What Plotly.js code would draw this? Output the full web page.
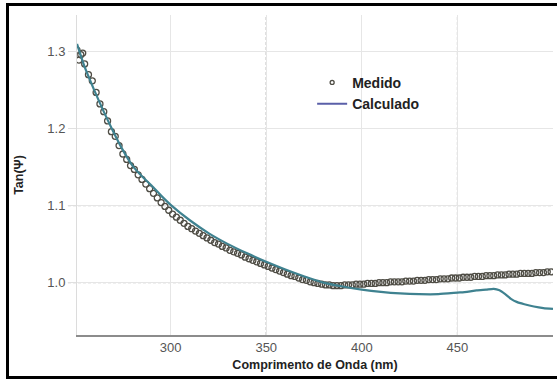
<!DOCTYPE html>
<html>
<head>
<meta charset="utf-8">
<script src="https://cdn.plot.ly/plotly-3.0.1.min.js"></script>
<style>
  html, body { margin: 0; padding: 0; background: #fff; }
  #wrap { position: relative; width: 557px; height: 379px; overflow: hidden; }
  #chart { position: absolute; left: 0; top: 0; width: 557px; height: 379px; }
  #frame { position: absolute; left: 6px; top: 3px; width: 600px; height: 370px;
           border: 3px solid #000; pointer-events: none; }
</style>
</head>
<body>
<div id="wrap"><div id="chart"></div><div id="frame"></div></div>
<script>
// Measured (Medido)
const measuredX = [251,252,253,254,255,257,259,261,263,265,267,269,271,273,275,277,279,281,283,285,287,289,291,293,295,297,299,301,303,305,307,309,311,313,315,317,319,321,323,325,327,329,331,333,335,337,339,341,343,345,347,349,351,353,355,357,359,361,363,365,367,369,371,373,375,377,379,381,383,385,387,389,391,393,395,397,399,401,403,405,407,409,411,413,415,417,419,421,423,425,427,429,431,433,435,437,439,441,443,445,447,449,451,453,455,457,459,461,463,465,467,469,471,473,475,477,479,481,483,485,487,489,491,493,495,497,499];
const measuredY = [1.302,1.289,1.296,1.298,1.284,1.270,1.262,1.247,1.232,1.222,1.210,1.196,1.190,1.178,1.167,1.160,1.152,1.147,1.140,1.134,1.128,1.122,1.116,1.110,1.104,1.099,1.094,1.089,1.085,1.081,1.077,1.073,1.070,1.067,1.064,1.061,1.058,1.055,1.052,1.050,1.047,1.045,1.042,1.040,1.038,1.036,1.033,1.031,1.029,1.027,1.025,1.023,1.021,1.019,1.017,1.015,1.013,1.011,1.009,1.008,1.006,1.004,1.003,1.001,1.000,0.999,0.998,0.997,0.997,0.996,0.996,0.996,0.997,0.997,0.997,0.998,0.998,0.998,0.999,0.999,0.999,1.000,1.000,1.000,1.001,1.001,1.001,1.001,1.002,1.002,1.002,1.003,1.003,1.003,1.004,1.004,1.004,1.005,1.005,1.005,1.006,1.006,1.006,1.007,1.007,1.007,1.008,1.008,1.008,1.009,1.009,1.009,1.010,1.010,1.010,1.011,1.011,1.011,1.012,1.012,1.012,1.012,1.013,1.013,1.013,1.014,1.014];

// Calculated (Calculado)
const calcX = [251,255,260,265,270,275,280,285,290,295,300,310,320,330,340,350,360,370,380,390,400,410,420,430,440,450,455,460,465,469,472,475,478,481,485,490,495,500];
const calcY = [1.310,1.280,1.250,1.222,1.196,1.172,1.152,1.138,1.126,1.113,1.101,1.081,1.064,1.050,1.038,1.027,1.017,1.008,1.000,0.995,0.991,0.988,0.986,0.985,0.985,0.987,0.988,0.990,0.991,0.992,0.990,0.985,0.979,0.975,0.972,0.969,0.967,0.966];

const xTicks = [300, 350, 400, 450];
const yTicks = [1.0, 1.1, 1.2, 1.3];
const dashedX = [350, 450];
const dashedY = [1.0, 1.1];

const traces = [
  { x: measuredX, y: measuredY, type: 'scatter', mode: 'markers', name: 'Medido', showlegend: false,
    marker: { symbol: 'circle-open', size: 6, color: '#4f4d45', line: { width: 1.3 } } },
  { x: calcX, y: calcY, type: 'scatter', mode: 'lines', name: 'Calculado', showlegend: false,
    line: { color: '#3f8290', width: 2.2, shape: 'spline', smoothing: 0.6 } },
  { x: [null], y: [null], type: 'scatter', mode: 'markers', name: 'Medido',
    marker: { symbol: 'circle-open', size: 4, color: '#4f4d45', line: { width: 1.3 } } },
  { x: [null], y: [null], type: 'scatter', mode: 'lines', name: 'Calculado',
    line: { color: '#5a5fa8', width: 2 } }
];

const shapes = [];
dashedX.forEach(v => shapes.push({ type: 'line', xref: 'x', yref: 'paper', x0: v, x1: v, y0: 0, y1: 1,
  line: { color: '#808080', width: 1, dash: '3px,2px' }, layer: 'below' }));
dashedY.forEach(v => shapes.push({ type: 'line', xref: 'paper', yref: 'y', x0: -0.019, x1: 1, y0: v, y1: v,
  line: { color: '#808080', width: 1, dash: '3px,2px' }, layer: 'below' }));

const layout = {
  width: 557, height: 379,
  margin: { l: 77, r: 4, t: 15, b: 44 },
  paper_bgcolor: '#fff', plot_bgcolor: '#fff',
  font: { family: 'Liberation Sans, Arial, sans-serif', color: '#444' },
  showlegend: true,
  legend: { x: 0.494, y: 0.838, xanchor: 'left', yanchor: 'top', bgcolor: 'rgba(0,0,0,0)',
    font: { size: 14, color: '#222', family: 'Liberation Sans, Arial, sans-serif', weight: 'bold' },
    itemwidth: 30, tracegroupgap: 0 },
  xaxis: { range: [251, 500], tickvals: xTicks, ticks: '', showgrid: true, gridcolor: '#e6e6e6',
    zeroline: false, showline: true, linecolor: '#8c8c8c', linewidth: 1.5,
    tickfont: { size: 13, color: '#555' },
    title: { text: 'Comprimento de Onda (nm)', font: { size: 12.5, color: '#222', weight: 'bold' }, standoff: 6 } },
  yaxis: { range: [0.932, 1.3475], tickvals: yTicks, ticktext: ['1.0','1.1','1.2','1.3'],
    ticks: 'outside', ticklen: 8, tickcolor: '#e0e0e0', showgrid: true, gridcolor: '#e6e6e6',
    zeroline: false, showline: true, linecolor: '#dcdcdc', linewidth: 1,
    tickfont: { size: 13, color: '#555' },
    title: { text: 'Tan(Ψ)', font: { size: 12.5, color: '#222', weight: 'bold' }, standoff: 20 } },
  shapes: shapes
};

Plotly.newPlot('chart', traces, layout, { displayModeBar: false, staticPlot: true });
</script>
</body>
</html>
